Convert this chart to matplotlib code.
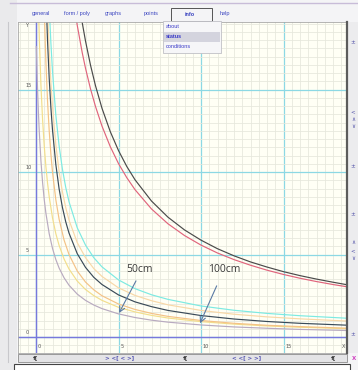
import matplotlib
matplotlib.use("Agg")
import matplotlib.pyplot as plt
from matplotlib.patches import Rectangle
from matplotlib.lines import Line2D
from matplotlib.ticker import MultipleLocator

W, H = 358, 370

# curves (x, y in graph units)
black_x = [2.6, 2.8, 3.0, 3.3, 3.6, 4.0, 4.5, 5.0, 5.5, 6.0, 7, 8, 9, 10, 11, 12, 13, 14, 15, 16, 17, 18, 19]
black_y = [20.33, 19.06, 17.94, 16.49, 15.25, 13.86, 12.45, 11.3, 10.34, 9.53, 8.24, 7.26, 6.49, 5.87,
           5.35, 4.92, 4.55, 4.24, 3.96, 3.72, 3.51, 3.32, 3.14]
red_x = [2.3, 2.5, 2.8, 3.0, 3.3, 3.6, 4.0, 4.5, 5.0, 5.5, 6, 7, 8, 9, 10, 11, 12, 13, 14, 15, 16, 17, 18, 19]
red_y = [20.17, 18.89, 17.24, 16.29, 15.05, 13.99, 12.78, 11.54, 10.51, 9.66, 8.93, 7.76, 6.86, 6.15,
         5.57, 5.09, 4.69, 4.35, 4.05, 3.79, 3.56, 3.36, 3.18, 3.02]
cyan_x = [0.7, 0.8, 0.9, 1.0, 1.2, 1.4, 1.6, 1.8, 2.0, 2.5, 3.0, 3.5, 4.0, 5, 6, 7, 8, 10, 12, 14, 16, 19]
cyan_y = [22.87, 20.05, 17.86, 16.1, 13.47, 11.59, 10.18, 9.08, 8.2, 6.62, 5.57, 4.81, 4.25, 3.46,
          2.93, 2.56, 2.28, 1.88, 1.62, 1.43, 1.29, 1.13]
peach_x = [0.6, 0.7, 0.8, 0.9, 1.0, 1.2, 1.4, 1.6, 1.8, 2.0, 2.5, 3.0, 3.5, 4.0, 5, 6, 7, 8, 10, 12, 14, 16, 19]
peach_y = [23.07, 19.81, 17.37, 15.46, 13.94, 11.66, 10.03, 8.8, 7.85, 7.09, 5.72, 4.81, 4.15, 3.67,
           2.98, 2.52, 2.2, 1.95, 1.61, 1.38, 1.22, 1.1, 0.96]
dark_x = [0.55, 0.6, 0.7, 0.8, 0.9, 1.0, 1.2, 1.4, 1.6, 1.8, 2.0, 2.5, 3.0, 3.5, 4.0, 5, 6, 7, 8, 10, 12, 14, 16, 19]
dark_y = [22.78, 20.88, 17.91, 15.68, 13.94, 12.55, 10.47, 8.98, 7.86, 6.99, 6.3, 5.05, 4.22, 3.62,
          3.18, 2.55, 2.13, 1.84, 1.61, 1.3, 1.09, 0.94, 0.83, 0.71]
orange_x = [0.45, 0.5, 0.55, 0.6, 0.7, 0.8, 0.9, 1.0, 1.2, 1.4, 1.7, 2.0, 2.5, 3.0, 3.5, 4.0, 5, 6, 7, 8, 10, 12, 14, 16, 19]
orange_y = [22.22, 20.0, 18.18, 16.67, 14.29, 12.5, 11.11, 10.0, 8.33, 7.14, 5.88, 5.0, 4.0, 3.33,
            2.86, 2.5, 2.0, 1.67, 1.43, 1.25, 1.0, 0.83, 0.71, 0.63, 0.53]
yellow_x = [0.1, 0.15, 0.2, 0.3, 0.4, 0.5, 0.6, 0.7, 0.8, 1.0, 1.2, 1.4, 1.7, 2.0, 2.5, 3.0, 3.5, 4.0, 5, 6, 7, 8, 10, 12, 14, 16, 19]
yellow_y = [22.33, 20.0, 18.11, 15.24, 13.15, 11.57, 10.32, 9.32, 8.5, 7.22, 6.27, 5.55, 4.73, 4.12,
            3.39, 2.88, 2.51, 2.22, 1.8, 1.52, 1.31, 1.15, 0.93, 0.78, 0.67, 0.59, 0.5]
gray_x = [0.02, 0.05, 0.1, 0.15, 0.2, 0.3, 0.4, 0.5, 0.6, 0.8, 1.0, 1.2, 1.4, 1.7, 2.0, 2.5, 3.0, 3.5, 4.0, 5, 6, 7, 8, 10, 12, 14, 16, 19]
gray_y = [17.6, 16.46, 14.84, 13.52, 12.41, 10.66, 9.35, 8.32, 7.5, 6.26, 5.37, 4.7, 4.18, 3.59, 3.14,
          2.6, 2.22, 1.94, 1.72, 1.4, 1.18, 1.02, 0.9, 0.73, 0.61, 0.53, 0.46, 0.39]

x_labels = ["0", "5", "10", "15", "X"]
x_label_pos = [0, 5, 10, 15, 18.4]
y_labels = ["0", "5", "10", "15", "Y"]
y_label_pos = [0, 5, 10, 15, 18.6]

tabs = ["general", "form / poly", "graphs", "points", "info", "help"]
tab_x = [41, 77, 113, 151, 190, 225]
menu_items = ["about", "status", "conditions"]


def fx(px):
    return px / W


def fy(py):
    return 1 - py / H


def rect(x0, y0, x1, y1, **kw):
    fig.add_artist(Rectangle((fx(x0), fy(y1)), (x1 - x0) / W, (y1 - y0) / H,
                             transform=fig.transFigure, **kw))


def hline(x0, x1, y, **kw):
    fig.add_artist(Line2D([fx(x0), fx(x1)], [fy(y), fy(y)], transform=fig.transFigure, **kw))


def vline(x, y0, y1, **kw):
    fig.add_artist(Line2D([fx(x), fx(x)], [fy(y0), fy(y1)], transform=fig.transFigure, **kw))


fig = plt.figure(figsize=(W / 100, H / 100), dpi=100, facecolor="#f4f4f6")

# plot area
px0, px1, py0, py1 = 18, 346, 22, 353
ax = fig.add_axes([fx(px0), fy(py1), (px1 - px0) / W, (py1 - py0) / H])
ax.set_facecolor("#fffff5")
ax.set_xlim((px0 - 36) / 16.5, (px1 - 36) / 16.5)
ax.set_ylim((337 - py1) / 16.5, (337 - py0) / 16.5)
ax.xaxis.set_major_locator(MultipleLocator(5))
ax.yaxis.set_major_locator(MultipleLocator(5))
ax.xaxis.set_minor_locator(MultipleLocator(0.5))
ax.yaxis.set_minor_locator(MultipleLocator(0.5))
ax.grid(which="minor", color="#e6e7dc", lw=0.55)
ax.grid(which="major", color="#8cd8e4", lw=0.9)
ax.tick_params(which="both", length=0, labelbottom=False, labelleft=False)
for s in ax.spines.values():
    s.set_color("#a8a8a8")
    s.set_linewidth(0.6)
ax.axhline(0, color="#7878dc", lw=1.0)
ax.axvline(0, color="#7878dc", lw=1.0)

curves = [
    (gray_x, gray_y, "#b8aac0"),
    (yellow_x, yellow_y, "#f2de8c"),
    (orange_x, orange_y, "#f4c286"),
    (peach_x, peach_y, "#f8d8a8"),
    (cyan_x, cyan_y, "#7ceae2"),
    (dark_x, dark_y, "#3a4a58"),
    (red_x, red_y, "#e0647c"),
    (black_x, black_y, "#4a4a4a"),
]
for xs, ys, c in curves:
    ax.plot(xs, ys, color=c, lw=0.85)

for lab, pos in zip(x_labels, x_label_pos):
    ax.text(pos + 0.12, -0.6, lab, fontsize=3.6, color="#555555", ha="left", va="center")
for lab, pos in zip(y_labels, y_label_pos):
    ax.text(-0.65, pos + 0.25, lab, fontsize=3.6, color="#555555", ha="left", va="center")

arrow = dict(arrowstyle="->", color="#5a7aa4", lw=0.8, shrinkA=0, shrinkB=0)
ax.annotate("", xy=(5.03, 1.45), xytext=(6.06, 3.4), arrowprops=arrow)
ax.annotate("", xy=(9.94, 0.83), xytext=(10.95, 3.1), arrowprops=arrow)
ax.text(5.5, 4.1, "50cm", fontsize=7.5, family="Open Sans", color="#3a3a3a", ha="left", va="center")
ax.text(10.45, 4.1, "100cm", fontsize=7.5, family="Open Sans", color="#3a3a3a", ha="left", va="center")

# window chrome
rect(0, 0, 17, 370, facecolor="#eaeaec", edgecolor="none")
vline(8, 22, 362, color="#c8c8cc", lw=0.8)
hline(10, 358, 3, color="#c8bcd8", lw=1.0)
vline(347, 22, 353, color="#5c5c5c", lw=1.6)
rect(348, 22, 358, 353, facecolor="#ececee", edgecolor="none")
for y, g in [(42, "\u00b1"), (112, "<"), (119, "\u2227"), (126, "\u2228"), (166, "\u00b1"),
             (214, "\u00b1"), (243, "\u2227"), (251, "<"), (258, "\u2228"), (335, "\u00b1")]:
    fig.text(fx(353), fy(y), g, fontsize=4, color="#5050a8", ha="center", va="center")

for t, x in zip(tabs, tab_x):
    bold = t == "info"
    fig.text(fx(x), fy(14), t, fontsize=4, family="Liberation Sans", color="#3a44c0",
             ha="center", va="center", weight="bold" if bold else "normal")
rect(171, 8, 212, 21, facecolor="none", edgecolor="#555555", lw=0.7)

rect(163, 21, 221, 53, facecolor="#f6f6f8", edgecolor="#c0c0c6", lw=0.6, zorder=5)
rect(164, 32, 220, 42, facecolor="#d4d4de", edgecolor="none", zorder=5)
for i, m in enumerate(menu_items):
    fig.text(fx(166), fy(27 + 10 * i), m, fontsize=4, family="Liberation Sans", color="#3a3ac8",
             ha="left", va="center", weight="bold" if m == "status" else "normal", zorder=6)

# bottom scroll bar and text box
rect(18, 354, 347, 362, facecolor="#e4e4e6", edgecolor="#8c8c8c", lw=0.6)
for x, s, c in [(36, "\u2020[", "#303030"), (120, "> <[ < >]", "#5050b0"), (186, "\u2020[", "#303030"),
                (247, "< <[ > >]", "#5050b0"), (334, "\u2020[", "#303030"), (354, "X", "#d040c0")]:
    fig.text(fx(x), fy(358), s, fontsize=4, color=c, ha="center", va="center", weight="bold")
rect(14, 364, 350, 372, facecolor="#ffffff", edgecolor="#444444", lw=0.8)

fig.savefig("out.png", dpi=100, facecolor=fig.get_facecolor())
